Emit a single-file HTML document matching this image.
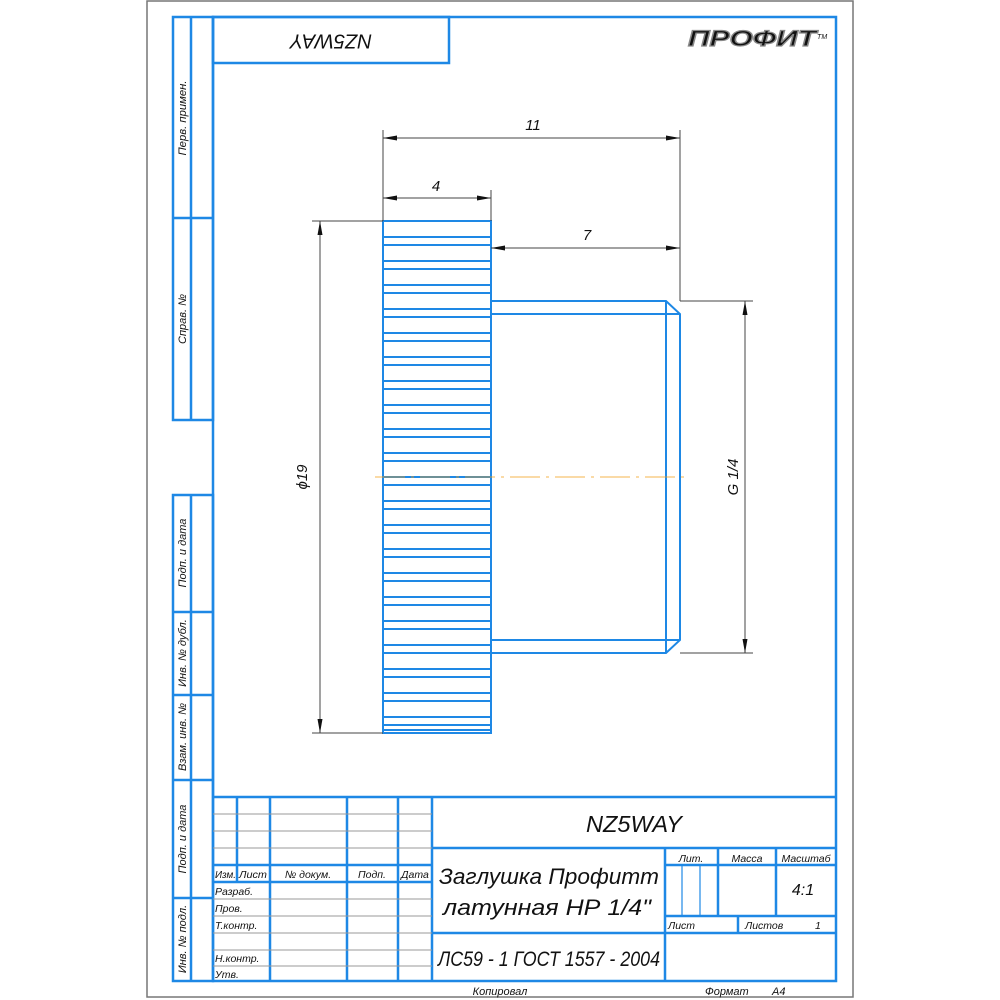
<!DOCTYPE html>
<html><head><meta charset="utf-8"><style>
html,body{margin:0;padding:0;background:#fff}
svg{display:block}
text{font-family:"Liberation Sans","DejaVu Sans",sans-serif;font-style:italic;fill:#111}
</style></head><body>
<svg width="1000" height="1000" viewBox="0 0 1000 1000" xmlns="http://www.w3.org/2000/svg">
<rect x="147" y="1" width="706" height="996" fill="none" stroke="#777" stroke-width="1.5"/>
<g stroke="#1e88e5" stroke-width="2.5" fill="none">
<rect x="213" y="17" width="623" height="964"/>
<rect x="173" y="17" width="40" height="403"/>
<line x1="191" y1="17" x2="191" y2="420"/>
<line x1="173" y1="218" x2="213" y2="218"/>
<rect x="173" y="495" width="40" height="486"/>
<line x1="191" y1="495" x2="191" y2="981"/>
<line x1="173" y1="612" x2="213" y2="612"/>
<line x1="173" y1="695" x2="213" y2="695"/>
<line x1="173" y1="780" x2="213" y2="780"/>
<line x1="173" y1="898" x2="213" y2="898"/>
<rect x="213" y="17" width="236" height="46"/>
<line x1="213" y1="797" x2="836" y2="797"/>
<line x1="237" y1="797" x2="237" y2="882"/>
<line x1="270" y1="797" x2="270" y2="981"/>
<line x1="347" y1="797" x2="347" y2="981"/>
<line x1="398" y1="797" x2="398" y2="981"/>
<line x1="432" y1="797" x2="432" y2="981"/>
<line x1="213" y1="865" x2="432" y2="865"/>
<line x1="213" y1="882" x2="432" y2="882"/>
<line x1="432" y1="848" x2="836" y2="848"/>
<line x1="432" y1="933" x2="836" y2="933"/>
<line x1="665" y1="848" x2="665" y2="981"/>
<line x1="665" y1="865" x2="836" y2="865"/>
<line x1="718" y1="848" x2="718" y2="916"/>
<line x1="776" y1="848" x2="776" y2="916"/>
<line x1="665" y1="916" x2="836" y2="916"/>
<line x1="738" y1="916" x2="738" y2="933"/>
</g>
<g stroke="#1e88e5" stroke-width="1.2" fill="none">
<line x1="682" y1="865" x2="682" y2="916"/>
<line x1="700" y1="865" x2="700" y2="916"/>
</g>
<g stroke="#999" stroke-width="1">
<line x1="213" y1="814" x2="432" y2="814"/><line x1="213" y1="831" x2="432" y2="831"/><line x1="213" y1="848" x2="432" y2="848"/>
<line x1="213" y1="899" x2="432" y2="899"/><line x1="213" y1="916" x2="432" y2="916"/><line x1="213" y1="933" x2="432" y2="933"/>
<line x1="213" y1="950" x2="432" y2="950"/><line x1="213" y1="966" x2="432" y2="966"/>
</g>
<g stroke="#1e88e5" stroke-width="2" fill="none">
<rect x="383" y="221" width="108" height="512"/>
<line x1="383" y1="237" x2="491" y2="237"/><line x1="383" y1="245" x2="491" y2="245"/>
<line x1="383" y1="261" x2="491" y2="261"/><line x1="383" y1="269" x2="491" y2="269"/>
<line x1="383" y1="285" x2="491" y2="285"/><line x1="383" y1="293" x2="491" y2="293"/>
<line x1="383" y1="309" x2="491" y2="309"/><line x1="383" y1="317" x2="491" y2="317"/>
<line x1="383" y1="333" x2="491" y2="333"/><line x1="383" y1="341" x2="491" y2="341"/>
<line x1="383" y1="357" x2="491" y2="357"/><line x1="383" y1="365" x2="491" y2="365"/>
<line x1="383" y1="381" x2="491" y2="381"/><line x1="383" y1="389" x2="491" y2="389"/>
<line x1="383" y1="405" x2="491" y2="405"/><line x1="383" y1="413" x2="491" y2="413"/>
<line x1="383" y1="429" x2="491" y2="429"/><line x1="383" y1="437" x2="491" y2="437"/>
<line x1="383" y1="453" x2="491" y2="453"/><line x1="383" y1="461" x2="491" y2="461"/>
<line x1="383" y1="477" x2="491" y2="477"/><line x1="383" y1="485" x2="491" y2="485"/>
<line x1="383" y1="501" x2="491" y2="501"/><line x1="383" y1="509" x2="491" y2="509"/>
<line x1="383" y1="525" x2="491" y2="525"/><line x1="383" y1="533" x2="491" y2="533"/>
<line x1="383" y1="549" x2="491" y2="549"/><line x1="383" y1="557" x2="491" y2="557"/>
<line x1="383" y1="573" x2="491" y2="573"/><line x1="383" y1="581" x2="491" y2="581"/>
<line x1="383" y1="597" x2="491" y2="597"/><line x1="383" y1="605" x2="491" y2="605"/>
<line x1="383" y1="621" x2="491" y2="621"/><line x1="383" y1="629" x2="491" y2="629"/>
<line x1="383" y1="645" x2="491" y2="645"/><line x1="383" y1="653" x2="491" y2="653"/>
<line x1="383" y1="669" x2="491" y2="669"/><line x1="383" y1="677" x2="491" y2="677"/>
<line x1="383" y1="693" x2="491" y2="693"/><line x1="383" y1="701" x2="491" y2="701"/>
<line x1="383" y1="717" x2="491" y2="717"/><line x1="383" y1="725" x2="491" y2="725"/>
<line x1="383" y1="730" x2="491" y2="730"/>
<path d="M491 301 H666 L680 314 V640 L666 653 H491"/>
<line x1="666" y1="301" x2="666" y2="653"/>
<line x1="491" y1="314" x2="680" y2="314"/>
<line x1="491" y1="640" x2="680" y2="640"/>
</g>
<line x1="375" y1="477" x2="690" y2="477" stroke="#f39c12" stroke-width="0.8" stroke-dasharray="30,6,3,6"/>
<g stroke="#444" stroke-width="1" fill="none">
<line x1="383" y1="130" x2="383" y2="221"/>
<line x1="680" y1="130" x2="680" y2="301"/>
<line x1="491" y1="190" x2="491" y2="221"/>
<line x1="383" y1="138" x2="680" y2="138"/>
<line x1="383" y1="198" x2="491" y2="198"/>
<line x1="491" y1="248" x2="680" y2="248"/>
<line x1="312" y1="221" x2="383" y2="221"/>
<line x1="312" y1="733" x2="383" y2="733"/>
<line x1="320" y1="221" x2="320" y2="733"/>
<line x1="680" y1="301" x2="753" y2="301"/>
<line x1="680" y1="653" x2="753" y2="653"/>
<line x1="745" y1="301" x2="745" y2="653"/>
</g>
<g fill="#111">
<path d="M383 138 l14 -2.5 v5z"/><path d="M680 138 l-14 -2.5 v5z"/>
<path d="M383 198 l14 -2.5 v5z"/><path d="M491 198 l-14 -2.5 v5z"/>
<path d="M491 248 l14 -2.5 v5z"/><path d="M680 248 l-14 -2.5 v5z"/>
<path d="M320 221 l-2.5 14 h5z"/><path d="M320 733 l-2.5 -14 h5z"/>
<path d="M745 301 l-2.5 14 h5z"/><path d="M745 653 l-2.5 -14 h5z"/>
</g>
<text x="533" y="130" font-size="15" text-anchor="middle">11</text>
<text x="436" y="191" font-size="15" text-anchor="middle">4</text>
<text x="587" y="240" font-size="15" text-anchor="middle">7</text>
<text transform="translate(307,477) rotate(-90)" font-size="15" text-anchor="middle">ϕ19</text>
<text transform="translate(738,477) rotate(-90)" font-size="15" text-anchor="middle">G 1/4</text>
<text transform="translate(331,40) rotate(180)" font-size="20" text-anchor="middle" dominant-baseline="middle" textLength="82" lengthAdjust="spacingAndGlyphs">NZ5WAY</text>
<text x="688" y="46" font-size="22" font-weight="bold" font-style="normal" fill="#fff" stroke="#888" stroke-width="1.2" textLength="128" lengthAdjust="spacingAndGlyphs">ПРОФИТ</text>
<text x="817" y="39" font-size="7" font-style="normal" fill="#888">ТМ</text>
<g font-size="11">
<text transform="translate(186,118) rotate(-90)" text-anchor="middle" textLength="75" lengthAdjust="spacingAndGlyphs">Перв. примен.</text>
<text transform="translate(186,319) rotate(-90)" text-anchor="middle">Справ. №</text>
<text transform="translate(186,553) rotate(-90)" text-anchor="middle">Подп. и дата</text>
<text transform="translate(186,653) rotate(-90)" text-anchor="middle">Инв. № дубл.</text>
<text transform="translate(186,737) rotate(-90)" text-anchor="middle">Взам. инв. №</text>
<text transform="translate(186,839) rotate(-90)" text-anchor="middle">Подп. и дата</text>
<text transform="translate(186,939) rotate(-90)" text-anchor="middle">Инв. № подл.</text>
</g>
<g font-size="10.5">
<text x="215" y="878" textLength="21" lengthAdjust="spacingAndGlyphs">Изм.</text><text x="239" y="878" textLength="28" lengthAdjust="spacingAndGlyphs">Лист</text>
<text x="308" y="878" text-anchor="middle">№ докум.</text>
<text x="372" y="878" text-anchor="middle">Подп.</text><text x="415" y="878" text-anchor="middle">Дата</text>
<text x="215" y="895">Разраб.</text><text x="215" y="912">Пров.</text><text x="215" y="929">Т.контр.</text>
<text x="215" y="962">Н.контр.</text><text x="215" y="978">Утв.</text>
<text x="691" y="862" text-anchor="middle">Лит.</text><text x="747" y="862" text-anchor="middle">Масса</text><text x="806" y="862" text-anchor="middle">Масштаб</text>
<text x="668" y="929">Лист</text><text x="745" y="929">Листов</text><text x="815" y="929">1</text>
</g>
<text x="586" y="832" font-size="23" textLength="96" lengthAdjust="spacingAndGlyphs">NZ5WAY</text>
<text x="439" y="884" font-size="22" textLength="220" lengthAdjust="spacingAndGlyphs">Заглушка Профитт</text>
<text x="443" y="915" font-size="22" textLength="208" lengthAdjust="spacingAndGlyphs">латунная НР 1/4"</text>
<text x="438" y="966" font-size="21" textLength="222" lengthAdjust="spacingAndGlyphs">ЛС59 - 1 ГОСТ 1557 - 2004</text>
<text x="803" y="895" font-size="16" text-anchor="middle">4:1</text>
<text x="500" y="995" font-size="11" text-anchor="middle">Копировал</text>
<text x="705" y="995" font-size="11">Формат</text><text x="772" y="995" font-size="11">А4</text>
</svg>
</body></html>
